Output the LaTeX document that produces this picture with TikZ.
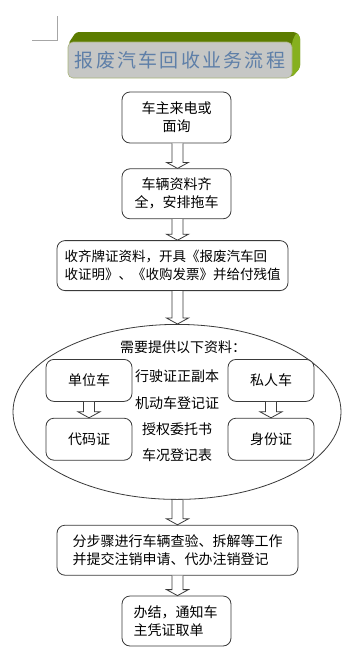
\documentclass[tikz,border=0pt]{standalone}
\usepackage{fontspec}
\setmainfont{Noto Sans CJK SC}
\usetikzlibrary{positioning,shapes.geometric,calc}
\definecolor{BannerTop}{HTML}{5C7C00}
\definecolor{BannerSide}{HTML}{86B01E}
\definecolor{BannerFace}{HTML}{C6C7C5}
\definecolor{BannerRule}{HTML}{A9B47A}
\definecolor{TitleInk}{HTML}{5E7FA8}
\definecolor{CornerGray}{HTML}{A6A6A6}
\definecolor{BoxRule}{HTML}{3A3A3A}

% hollow block arrow: x reference, from node, to node
\newcommand{\hollowarrow}[3]{%
  \draw[harrow] let \p1=(#1), \p2=(#2.south), \p3=(#3.north) in
    (\x1-5.5pt,\y2) -- (\x1-5.5pt,\y3+6pt) -- (\x1-11pt,\y3+6pt) -- (\x1,\y3)
    -- (\x1+11pt,\y3+6pt) -- (\x1+5.5pt,\y3+6pt) -- (\x1+5.5pt,\y2);}

\begin{document}
\begin{tikzpicture}[x=1pt, y=1pt,
  card/.style={rounded corners=8pt, draw=BoxRule, fill=white, line width=0.8pt,
               align=center, inner sep=0pt, font=\fontsize{14}{18}\selectfont},
  subcard/.style={card, minimum width=86pt, minimum height=42pt},
  doc/.style={font=\fontsize{14}{18}\selectfont, inner sep=0pt},
  harrow/.style={draw=BoxRule, fill=white, line width=0.8pt, line join=miter}]
  \useasboundingbox (0,0) rectangle (352,-651);

  % corner mark
  \draw[CornerGray, line width=0.8pt] (32,-40) -- (57,-40) -- (57,-16);

  % title banner
  \fill[BannerTop, rounded corners=3pt] (68,-44) -- (76,-32) -- (296,-32) -- (300,-36)
    -- (300,-68) -- (292,-77) -- cycle;
  \fill[BannerSide, rounded corners=2pt] (292,-42) -- (296,-33) -- (300,-36)
    -- (300,-68) -- (292,-77) -- cycle;
  \node[rounded corners=5pt, fill=BannerFace, draw=BannerRule, line width=0.6pt,
        minimum width=224pt, minimum height=36pt, inner sep=0pt] (banner) at (180,-60) {};
  \node[TitleInk, font=\fontsize{19}{22}\selectfont\addfontfeature{LetterSpace=12}]
       (title) at (banner.center) {报废汽车回收业务流程};

  % main chain
  \node[card, minimum width=109pt, minimum height=51pt] (b1) at (176.5,-117.5)
       {车主来电或\\面询};
  \node[card, minimum width=109pt, minimum height=50pt, below=25pt of b1] (b2)
       {车辆资料齐\\全，安排拖车};
  \node[card, minimum width=231pt, minimum height=50pt, align=left,
        font=\fontsize{13.5}{18}\selectfont, below=21pt of b2, xshift=-4pt] (b3)
       {收齐牌证资料，开具《报废汽车回\\收证明》、《收购发票》并给付残值};
  \node[ellipse, draw=BoxRule, fill=white, line width=0.8pt, minimum width=328pt,
        minimum height=175pt, below=33pt of b3, xshift=4.5pt] (ell) {};
  \node[card, minimum width=241pt, minimum height=50pt, align=left,
        below=25pt of ell, xshift=0.5pt] (b5)
       {分步骤进行车辆查验、拆解等工作\\并提交注销申请、代办注销登记};
  \node[card, minimum width=109pt, minimum height=50pt, text width=86pt, align=left,
        below=20pt of b5, xshift=-1pt] (b6)
       {办结，通知车\\主凭证取单};

  % inside the ellipse
  \node[doc] (need) at ($(ell.center)+(6,64.5)$) {需要提供以下资料：};
  \node[subcard] (unit) at ($(ell.center)+(-88,31.5)$) {单位车};
  \node[subcard, below=16pt of unit] (code) {代码证};
  \node[subcard] (priv) at ($(ell.center)+(94,31.5)$) {私人车};
  \node[subcard, below=16pt of priv] (idcard) {身份证};
  \node[doc] (d1) at ($(ell.center)+(0,35.5)$) {行驶证正副本};
  \node[doc, below=13pt of d1] (d2) {机动车登记证};
  \node[doc, below=13pt of d2] (d3) {授权委托书};
  \node[doc, below=13pt of d3] (d4) {车况登记表};

  % arrows
  \coordinate (ax) at (177.5,0);
  \hollowarrow{ax}{b1}{b2}
  \hollowarrow{ax}{b2}{b3}
  \hollowarrow{ax}{b3}{ell}
  \hollowarrow{ax}{ell}{b5}
  \hollowarrow{ax}{b5}{b6}
  \hollowarrow{unit}{unit}{code}
  \hollowarrow{priv}{priv}{idcard}
\end{tikzpicture}
\end{document}
